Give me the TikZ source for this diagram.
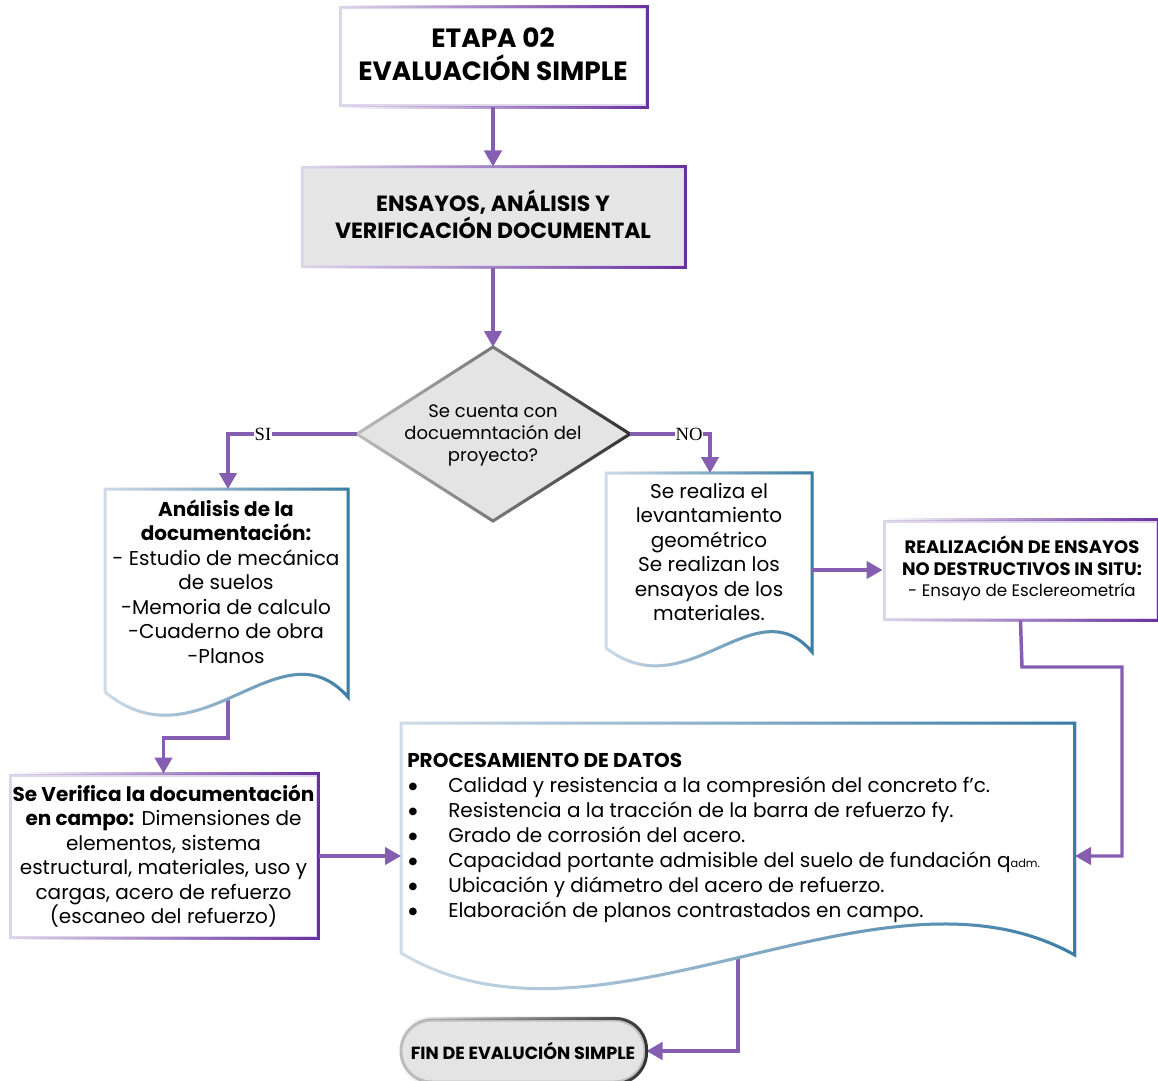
\documentclass[tikz,border=0pt]{standalone}
\usepackage{fontspec}
\setmainfont{Poppins}
\newfontfamily\serfont{Liberation Serif}
\newfontfamily\dejavu{DejaVu Sans}
\usetikzlibrary{arrows.meta,fadings}
\definecolor{connc}{RGB}{133,94,177}
\definecolor{rlight}{RGB}{222,214,234}
\definecolor{rdark}{RGB}{105,48,160}
\definecolor{dlight}{RGB}{208,220,232}
\definecolor{ddark}{RGB}{60,125,165}
\definecolor{glight}{RGB}{190,190,190}
\definecolor{gdark}{RGB}{50,50,50}
\definecolor{gfill}{RGB}{228,228,228}
\definecolor{bfill}{RGB}{230,230,230}
\pgfdeclarelayer{bg}
\pgfdeclarelayer{paper}
\pgfsetlayers{paper,bg,main}
\newcommand\mydoc[9]{%
 \filldraw[fill=white,draw=dlight,line width=2.25pt] (#1,#2) -- (#3,#2) -- (#3,#5) .. controls (#8,#9) and (#6,#7) .. (#1,#4) -- cycle;
 \draw[draw=ddark,line width=2.25pt,path fading=west] (#1,#2) -- (#3,#2) -- (#3,#5) .. controls (#8,#9) and (#6,#7) .. (#1,#4) -- cycle;
}
\newcommand\itm{\makebox[30.75pt][l]{\hspace{1pt}\raisebox{2pt}{\dejavu\fontsize{7.5}{9}\selectfont ●}}}
\begin{document}
\begin{tikzpicture}[x=0.75pt,y=-0.75pt,
 connline/.style={draw=connc,line width=2.6pt},
 arr/.style={connline,-{Triangle[length=12pt,width=13pt]}},
 rbox/.style={draw=rlight,line width=2.25pt,fill=white,inner sep=0pt,align=center},
 overlay/.style={draw=rdark,line width=2.25pt,path fading=west},
 body/.style={font=\fontsize{15}{18.4}\selectfont,align=center,inner sep=0pt},
 lbl/.style={font=\serfont\fontsize{14}{16}\selectfont,fill=white,inner sep=0.5pt}
]
\useasboundingbox (0,0) rectangle (1158,1081);
\begin{pgfonlayer}{paper}
\fill[white] (0,0) rectangle (1158,1081);
\end{pgfonlayer}

% top box
\node[rbox,minimum width=229.5pt,minimum height=73.5pt] (top) at (493,57) {};
\draw[overlay] (top.north west) rectangle (top.south east);
\node[inner sep=0pt,align=center,font=\bfseries\fontsize{19.8}{24.75}\selectfont] (topt) at (493,54) {ETAPA 02\\EVALUACIÓN SIMPLE};

% second box
\node[rbox,fill=bfill,minimum width=286.5pt,minimum height=73.5pt] (ens) at (493,217) {};
\draw[overlay] (ens.north west) rectangle (ens.south east);
\node[inner sep=0pt,align=center,font=\bfseries\fontsize{16.5}{20.25}\selectfont] (enst) at (493,214) {ENSAYOS, ANÁLISIS Y\\VERIFICACIÓN DOCUMENTAL};

% diamond
\coordinate (dt) at (493,347);
\coordinate (dr) at (630,434);
\coordinate (db) at (493,521);
\coordinate (dl) at (357,434);
\filldraw[fill=gfill,draw=glight,line width=2.25pt] (dt) -- (dr) -- (db) -- (dl) -- cycle;
\draw[draw=gdark,line width=2.25pt,path fading=west] (dt) -- (dr) -- (db) -- (dl) -- cycle;
\node[body,font=\fontsize{13.5}{16.5}\selectfont] (dec) at (493,435) {Se cuenta con\\docuemntación del\\proyecto?};

% document 1
\mydoc{105}{489}{348}{692}{697}{200}{770}{280}{620}
\coordinate (d1top) at (228,489);
\coordinate (d1bot) at (228,680);
\node[body] (doc1) at (226,581.5) {\textbf{Análisis de la}\\\textbf{documentación:}\\- Estudio de mecánica\\de suelos\\-Memoria de calculo\\-Cuaderno de obra\\-Planos};

% document 2
\mydoc{606}{473}{812}{648}{652}{687}{710}{755}{585}
\coordinate (d2top) at (710,473);
\coordinate (d2e) at (812,570);
\node[body] (doc2) at (709,552) {Se realiza el\\levantamiento\\geométrico\\Se realizan los\\ensayos de los\\materiales.};

% realizacion box
\node[rbox,minimum width=204.75pt,minimum height=73.5pt] (real) at (1020.5,570) {};
\draw[overlay] (real.north west) rectangle (real.south east);
\node[body,font=\fontsize{13.5}{16.1}\selectfont] (realt) at (1022,568.5) {\textbf{REALIZACIÓN DE ENSAYOS}\\\textbf{NO DESTRUCTIVOS IN SITU:}\\{\fontsize{12.5}{16.1}\selectfont - Ensayo de Esclereometría}};

% verifica box
\node[rbox,minimum width=230.25pt,minimum height=121.5pt,body] (ver) at (163.5,856) {\textbf{Se Verifica la documentación}\\\textbf{en campo:} Dimensiones de\\elementos, sistema\\estructural, materiales, uso y\\cargas, acero de refuerzo\\(escaneo del refuerzo)};
\draw[overlay] (ver.north west) rectangle (ver.south east);

% procesamiento document
\mydoc{401}{723}{1075}{953}{955}{600}{1072}{880}{845}
\coordinate (pw) at (401,856);
\coordinate (pe) at (1075,856);
\coordinate (pbot) at (738,945);
\node[anchor=north west,inner sep=0pt,align=left,font=\fontsize{15}{18.75}\selectfont] (proc) at (407,753)
 {{\bfseries\fontsize{15}{18.75}\selectfont PROCESAMIENTO DE DATOS}\\
  \itm Calidad y resistencia a la compresión del concreto f’c.\\
  \itm Resistencia a la tracción de la barra de refuerzo fy.\\
  \itm Grado de corrosión del acero.\\
  \itm Capacidad portante admisible del suelo de fundación q{\fontsize{8.5}{9}\selectfont adm.}\\
  \itm Ubicación y diámetro del acero de refuerzo.\\
  \itm Elaboración de planos contrastados en campo.};

% terminator
\node[draw=glight,line width=2.25pt,fill=gfill,rounded corners=23.25pt,minimum width=183pt,minimum height=46.5pt,inner sep=0pt,
  font=\bfseries\fontsize{13.2}{15}\selectfont] (fin) at (523,1051) {FIN DE EVALUCIÓN SIMPLE};
\draw[draw=gdark,line width=2.25pt,path fading=west,rounded corners=23.25pt] (fin.north west) rectangle (fin.south east);

% connectors
\draw[arr] (top) -- (ens);
\draw[arr] (ens) -- (dt);
\draw[arr] (dl) -| (d1top);
\node[lbl] (si) at (263,434) {SI};
\draw[arr] (dr) -| (d2top);
\node[lbl] (no) at (689,434) {NO};
\draw[arr] (d2e) -- (real.west);
\draw[arr] (real.south) -- (1022,667) -- (1122,667) -- (1122,856) -- (pe);
\draw[arr] (ver.east) -- (pw);
\begin{pgfonlayer}{bg}
\draw[arr] (d1bot) -- (228,738) -| (ver.north);
\draw[arr] (pbot) -- (738,1051) -- (fin.east);
\end{pgfonlayer}
\end{tikzpicture}
\end{document}
